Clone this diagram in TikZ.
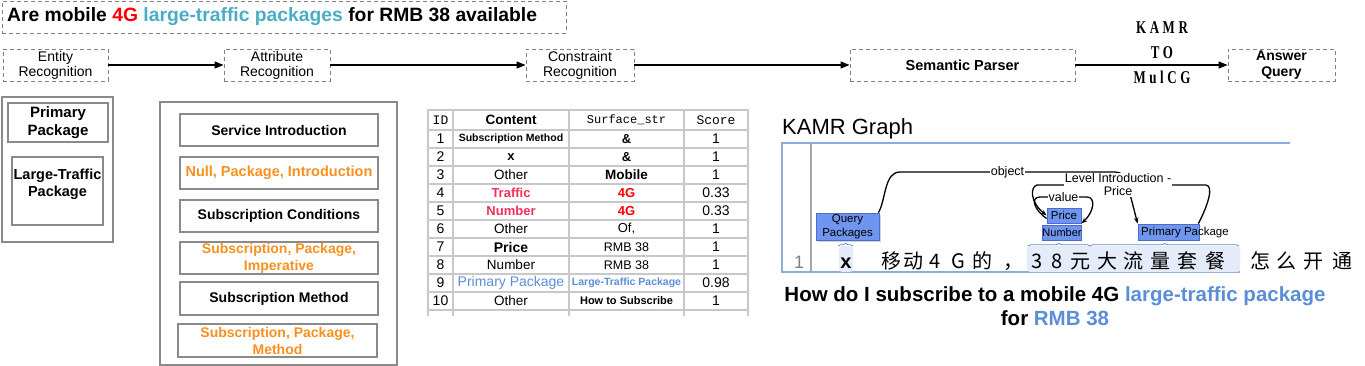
\documentclass[tikz,border=0pt]{standalone}
\usepackage{fontspec}
\setmainfont{Liberation Sans}
\newfontfamily\cjkfont{Noto Sans CJK SC}
\newfontfamily\tabmono{Liberation Mono}
\newfontfamily\kamrfont[FakeStretch=0.72,LetterSpace=20,UprightFont={* Bold}]{Liberation Serif}
\usetikzlibrary{arrows.meta,decorations.pathreplacing,shadows}
\definecolor{dashgray}{HTML}{808080}
\definecolor{boxgray}{HTML}{8A8A8A}
\definecolor{titlecyan}{HTML}{4BACC6}
\definecolor{attrorange}{HTML}{F7901E}
\definecolor{pinkred}{HTML}{F0305A}
\definecolor{capblue}{HTML}{5B8ED6}
\definecolor{gridgray}{HTML}{C8C8C8}
\definecolor{nodeblue}{HTML}{6F95EE}
\definecolor{nodeedge}{HTML}{4A6CD0}
\definecolor{frameblue}{HTML}{8FAADC}
\definecolor{hlblue}{HTML}{E4EBF9}
\definecolor{braceblue}{HTML}{6A86C8}
\newcommand{\fsz}[2]{\fontsize{#1}{#2}\selectfont}
\begin{document}
\begin{tikzpicture}[x=1pt,y=-1pt,
  dbox/.style={draw=dashgray, dash pattern=on 4pt off 3pt, line width=0.9pt, inner sep=0pt, align=center},
  flowarrow/.style={-{Triangle[length=9pt,width=7pt]}, line width=1.2pt},
  gbox/.style={draw=boxgray, line width=1.2pt, inner sep=0pt, align=center},
  gnode/.style={fill=nodeblue, draw=nodeedge, line width=0.8pt, inner sep=0pt, align=center},
  gedge/.style={line width=1.3pt, -{Stealth[length=6pt,width=4.5pt]}},
  glabel/.style={fill=white, inner sep=1pt, font=\fsz{12.5}{13}, align=center},
  tabtxt/.style={inner sep=0pt, font=\fsz{13}{14}},
  cjkch/.style={inner sep=0pt, anchor=base, font=\cjkfont\fsz{20}{22}},
  gridline/.style={draw=gridgray, line width=1.5pt}
]
\useasboundingbox (0,0) rectangle (1365,366);

% ---------- title ----------
\node[dbox, minimum width=564pt, minimum height=32pt] (titlebox) at (284,17) {};
\node[anchor=west, inner sep=0pt] (title) at (7,17) {\fsz{19.3}{20}\bfseries Are mobile \textcolor{red}{4G} \textcolor{titlecyan}{large-traffic packages} for RMB 38 available};

% ---------- pipeline ----------
\node[dbox, minimum width=105pt, minimum height=32pt, font=\fsz{14}{15}] (ent) at (55.5,65) {Entity\\Recognition};
\node[dbox, minimum width=106pt, minimum height=32pt, font=\fsz{14}{15}] (att) at (277,65) {Attribute\\Recognition};
\node[dbox, minimum width=108pt, minimum height=32pt, font=\fsz{14}{15}] (con) at (580,65) {Constraint\\Recognition};
\node[dbox, minimum width=225pt, minimum height=32pt, font=\fsz{14.5}{16}\bfseries] (sem) at (962.5,65) {Semantic Parser};
\node[dbox, minimum width=107pt, minimum height=32pt, font=\fsz{14}{16}\bfseries] (ans) at (1281.5,65) {Answer\\Query};
\node[align=center, inner sep=0pt, font=\kamrfont\fsz{18}{25}] (kamr) at (1162,53) {KAMR\\TO\\MulCG};
\draw[flowarrow] (ent) -- (att);
\draw[flowarrow] (att) -- (con);
\draw[flowarrow] (con) -- (sem);
\draw[flowarrow] (sem) -- (ans);

% ---------- entity output ----------
\node[gbox, minimum width=111pt, minimum height=145pt] (entout) at (57.5,169.5) {};
\node[gbox, minimum width=100pt, minimum height=39pt, font=\fsz{15}{18}\bfseries] (prim) at (58,122.5) {Primary\\Package};
\node[gbox, minimum width=91pt, minimum height=68pt] (ltbox) at (57.5,191) {};
\node[align=center, inner sep=0pt, font=\fsz{14.5}{17}\bfseries] (lttext) at (57.5,184.5) {Large-Traffic\\Package};

% ---------- attribute output ----------
\node[gbox, minimum width=237pt, minimum height=263pt] (attout) at (278.5,233.5) {};
\node[gbox, minimum width=198pt, minimum height=32pt, font=\fsz{14}{16}\bfseries] (a1) at (279,130) {Service Introduction};
\node[gbox, minimum width=198pt, minimum height=32pt, font=\fsz{14.5}{16}\bfseries, text=attrorange] (a2) at (279,173) {Null, Package, Introduction};
\node[gbox, minimum width=198pt, minimum height=32pt, font=\fsz{14}{16}\bfseries] (a3) at (279,216) {Subscription Conditions};
\node[gbox, minimum width=198pt, minimum height=32pt, font=\fsz{14}{17}\bfseries, text=attrorange] (a4) at (279,258) {Subscription, Package,\\Imperative};
\node[gbox, minimum width=198pt, minimum height=33pt, font=\fsz{14}{16}\bfseries] (a5) at (279,298.5) {Subscription Method};
\node[gbox, minimum width=199pt, minimum height=33pt, font=\fsz{14}{17}\bfseries, text=attrorange] (a6) at (277.5,340.5) {Subscription, Package,\\Method};

% ---------- table ----------
\foreach \yy in {110,130,148,166,184,202,220,238,256,274,292,310}
  \draw[gridline] (427,\yy) -- (749,\yy);
\foreach \xx in {428,453,569,684,748}
  \draw[gridline] (\xx,109) -- (\xx,316);
\node[tabtxt, font=\tabmono\fsz{13}{14}] (hid) at (440.5,120) {ID};
\node[tabtxt, font=\fsz{13.5}{14}\bfseries] (hcont) at (511,120) {Content};
\node[tabtxt, font=\tabmono\fsz{12}{14}] (hsurf) at (626.5,120) {Surface\_str};
\node[tabtxt, font=\tabmono\fsz{13}{14}] (hscore) at (716,120) {Score};
\foreach \c/\s/\sc [count=\i] in {
  {\bfseries\fsz{10.5}{12}Subscription Method}/{\bfseries\&}/1,
  {\bfseries x}/{\bfseries\&}/1,
  {\fsz{13.5}{14}Other}/{\bfseries\fsz{13.5}{14}Mobile}/1,
  {\color{pinkred}\bfseries Traffic}/{\color{red}\bfseries 4G}/0.33,
  {\color{pinkred}\bfseries Number}/{\color{red}\bfseries 4G}/0.33,
  {\fsz{13.5}{14}Other}/{Of,}/1,
  {\bfseries\fsz{14}{15}Price}/{\fsz{12.5}{14}RMB 38}/1,
  {\fsz{13.5}{14}Number}/{\fsz{12.5}{14}RMB 38}/1,
  {\color{capblue}\fsz{14}{15}Primary Package}/{\color{capblue}\bfseries\fsz{10.5}{12}Large-Traffic Package}/0.98,
  {\fsz{13.5}{14}Other}/{\bfseries\fsz{11}{12}How to Subscribe}/1}
{
  \node[tabtxt, font=\fsz{14}{15}] (rid\i) at (440.5,121+18*\i) {\i};
  \node[tabtxt] (rc\i) at (511,121+18*\i) {\c};
  \node[tabtxt] (rs\i) at (626.5,121+18*\i) {\s};
  \node[tabtxt, font=\fsz{14}{15}] (rsc\i) at (716,121+18*\i) {\sc};
}

% ---------- KAMR graph ----------
\node[anchor=base west, inner sep=0pt, font=\fsz{22}{24}] (kg) at (782,135) {KAMR Graph};
\draw[frameblue, line width=1.2pt] (1290,143) -- (782,143) -- (782,272) -- (1240,272);
\draw[gray!70, line width=1.6pt] (811,143) -- (811,272);
\node[anchor=base, inner sep=0pt, font=\fsz{18}{20}, text=gray] (ln) at (799,268) {1};

% highlights
\fill[hlblue, rounded corners=3pt] (839,246) rectangle (853,272);
\fill[hlblue, rounded corners=3pt] (1027,246) rectangle (1240,272);
\draw[braceblue, line width=0.7pt, decorate, decoration={brace, amplitude=2.5pt}] (838,246) -- (853,246);
\draw[braceblue, line width=0.7pt, decorate, decoration={brace, amplitude=2.5pt}] (1028,246) -- (1090,246);
\draw[braceblue, line width=0.7pt, decorate, decoration={brace, amplitude=2.5pt}] (1090,246) -- (1239,246);

% sentence
\node[anchor=base, inner sep=0pt, font=\fsz{20}{22}\bfseries] (xch) at (846,268) {x};
\foreach \ch/\px [count=\k] in {移/891, 动/913, 4/935, G/958, 的/982, ，/1013, 3/1037, 8/1057, 元/1080, 大/1107, 流/1133, 量/1160, 套/1187, 餐/1215, 怎/1260, 么/1286, 开/1313, 通/1342}
  \node[cjkch] (ch\k) at (\px,268) {\ch};

% graph nodes
\node[gnode, minimum width=63pt, minimum height=27pt, font=\fsz{11.5}{14}, drop shadow={opacity=0.35, shadow xshift=2pt, shadow yshift=-2pt}] (qp) at (847.5,226.5) {Query\\Packages};
\node[gnode, minimum width=38pt, minimum height=15pt, font=\fsz{11}{12}] (num) at (1062,232.5) {Number};
\node[gnode, minimum width=34pt, minimum height=15pt, font=\fsz{11.5}{12}] (price) at (1064,215.5) {Price};
\node[gnode, minimum width=61pt, minimum height=16pt] (pp) at (1168.5,232) {};
\node[anchor=west, inner sep=0pt, font=\fsz{11.5}{12}] (pptext) at (1141,232.5) {Primary Package};

% graph edges
\draw[gedge] ([xshift=-1pt]qp.north east) .. controls (886,200) and (884,172) .. (900,172)
   -- node[glabel, pos=0.5] (lobj) {object} (1115,172)
   .. controls (1127,172) and (1128,186) .. (1130,194) -- (pp.north west);
\draw[gedge] ([xshift=-1pt]pp.north east) .. controls (1208,205) and (1214,186) .. (1206,185)
   -- node[glabel, pos=0.52] (llev) {Level Introduction -\\Price} (1037,185)
   .. controls (1030,187) and (1030,202) .. (price.west);
\draw[gedge] ([yshift=-3pt]price.west) .. controls (1034,210) and (1030,197) .. (1040,197)
   -- node[glabel, pos=0.5] (lval) {value} (1087,197)
   .. controls (1096,197) and (1094,212) .. (price.south east);

% caption
\node[align=center, inner sep=0pt, font=\fsz{20.5}{24}\bfseries] (cap) at (1055,306) {How do I subscribe to a mobile 4G \textcolor{capblue}{large-traffic package}\\for \textcolor{capblue}{RMB 38}};
\end{tikzpicture}
\end{document}
